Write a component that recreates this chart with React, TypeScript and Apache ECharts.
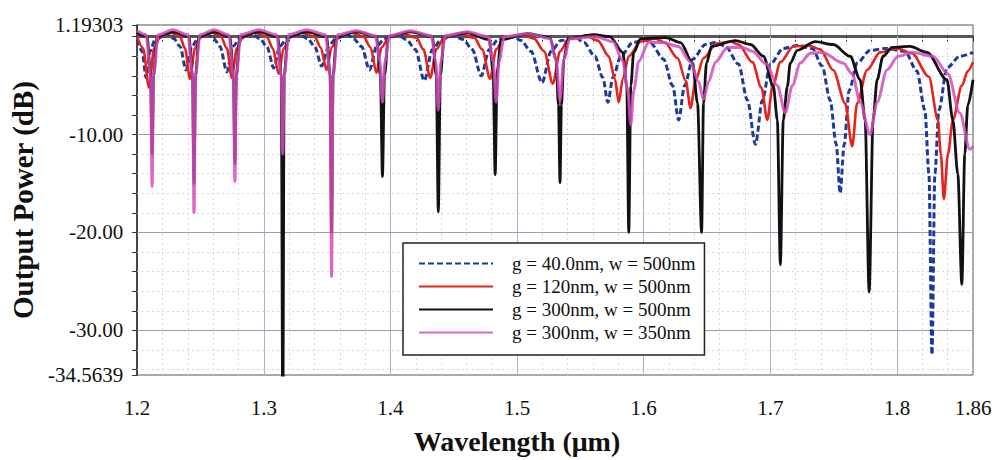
import React, { useEffect, useRef } from 'react';
import * as echarts from 'echarts';

// ---- axis ticks / labels ----
const xTickValues = [1.2, 1.3, 1.4, 1.5, 1.6, 1.7, 1.8, 1.86];
const xTickLabels = ['1.2', '1.3', '1.4', '1.5', '1.6', '1.7', '1.8', '1.86'];
const xMinorTicks = [1.2, 1.22, 1.24, 1.26, 1.28, 1.3, 1.32, 1.34, 1.36, 1.38, 1.4, 1.42, 1.44, 1.46, 1.48, 1.5, 1.52, 1.54, 1.56, 1.58, 1.6, 1.62, 1.64, 1.66, 1.68, 1.7, 1.72, 1.74, 1.76, 1.78, 1.8, 1.82, 1.84, 1.86];
const xMajorGrid = [1.3, 1.4, 1.5, 1.6, 1.7, 1.8];
const xMinorGrid = [1.22, 1.24, 1.26, 1.28, 1.32, 1.34, 1.36, 1.38, 1.42, 1.44, 1.46, 1.48, 1.52, 1.54, 1.56, 1.58, 1.62, 1.64, 1.66, 1.68, 1.72, 1.74, 1.76, 1.78, 1.82, 1.84];

const yTickValues = [1.19303, -10, -20, -30, -34.5639];
const yTickLabels = ['1.19303', '-10.00', '-20.00', '-30.00', '-34.5639'];
const yMinorTicks = [1.19303, 0, -2, -4, -6, -8, -10, -12, -14, -16, -18, -20, -22, -24, -26, -28, -30, -32, -34, -34.5639];
const yMajorGrid = [-10, -20, -30];
const yMinorGrid = [-2, -4, -6, -8, -12, -14, -16, -18, -22, -24, -26, -28, -32, -34];
const yZeroLine = 0.15;

// ---- series names ----
const seriesNames = ['g = 40.0nm, w = 500nm', 'g = 120nm, w = 500nm', 'g = 300nm, w = 500nm', 'g = 300nm, w = 350nm'];

// ---- data: [wavelength (um), output power (dB)] ----
const blueData: [number, number][] = [
  [1.2000, -0.3], [1.2039, -1.5], [1.2071, -4.2], [1.2102, -1.5], [1.2142, -0.3],
  [1.2236, 0.3],
  [1.2291, -0.2], [1.2339, -1.0], [1.2386, -3.4], [1.2433, -1.0], [1.2480, -0.2],
  [1.2551, 0.3],
  [1.2606, -0.2], [1.2654, -1.0], [1.2709, -3.6], [1.2756, -1.0], [1.2811, -0.2],
  [1.2906, 0.3],
  [1.2969, -0.2], [1.3024, -1.0], [1.3079, -3.2], [1.3126, -1.0], [1.3181, -0.2],
  [1.3276, 0.3],
  [1.3346, -0.2], [1.3402, -1.0], [1.3457, -3.0], [1.3512, -1.0], [1.3567, -0.2],
  [1.3661, 0.2],
  [1.3709, -0.2], [1.3772, -1.0], [1.3835, -3.4], [1.3890, -1.0], [1.3953, -0.2],
  [1.4055, 0.2],
  [1.4126, -0.3], [1.4197, -1.3], [1.4268, -4.5], [1.4331, -1.3], [1.4402, -0.3],
  [1.4496, 0.1],
  [1.4575, -0.3], [1.4646, -1.3], [1.4717, -4.0], [1.4780, -1.3], [1.4850, -0.3],
  [1.4969, 0.0],
  [1.5031, -0.4], [1.5110, -1.5], [1.5197, -4.7], [1.5268, -1.5], [1.5346, -0.4],
  [1.5465, -0.1],
  [1.5528, -0.6], [1.5614, -2.0], [1.5677, -4.2], [1.5717, -6.7], [1.5756, -4.2], [1.5819, -2.0], [1.5913, -0.6],
  [1.6016, -0.3],
  [1.6055, -0.7], [1.6157, -2.3], [1.6228, -5.0], [1.6276, -8.5], [1.6323, -5.0], [1.6386, -2.3], [1.6488, -0.8],
  [1.6567, -0.6],
  [1.6646, -1.0], [1.6748, -2.8], [1.6819, -6.5], [1.6882, -11], [1.6937, -6.5], [1.7000, -2.8], [1.7102, -1.2],
  [1.7213, -0.9],
  [1.7331, -1.2], [1.7409, -3.0], [1.7472, -6.5], [1.7520, -11], [1.7551, -16], [1.7583, -11], [1.7622, -5.5], [1.7685, -2.7], [1.7787, -1.4],
  [1.7906, -1.2],
  [1.8063, -1.5], [1.8157, -3.5], [1.8220, -7.5], [1.8252, -14], [1.8276, -32.5], [1.8299, -14], [1.8331, -7.5], [1.8394, -3.2], [1.8496, -2.0], [1.8600, -1.6],
];

const redData: [number, number][] = [
  [1.2000, 0.0], [1.2047, -1.2], [1.2094, -5.2], [1.2134, -1.2], [1.2181, 0.0],
  [1.2268, 0.4],
  [1.2339, 0.0], [1.2378, -1.2], [1.2417, -4.3], [1.2457, -1.2], [1.2504, 0.0],
  [1.2591, 0.4],
  [1.2661, 0.0], [1.2709, -1.2], [1.2748, -4.2], [1.2787, -1.2], [1.2835, 0.0],
  [1.2929, 0.4],
  [1.3024, 0.0], [1.3071, -1.2], [1.3118, -3.8], [1.3157, -1.2], [1.3205, 0.0],
  [1.3299, 0.4],
  [1.3402, 0.0], [1.3449, -1.1], [1.3496, -3.4], [1.3535, -1.1], [1.3591, 0.0],
  [1.3693, 0.4],
  [1.3787, 0.0], [1.3843, -1.1], [1.3890, -3.7], [1.3929, -1.1], [1.3992, 0.0],
  [1.4102, 0.3],
  [1.4205, -0.1], [1.4260, -1.3], [1.4315, -4.2], [1.4362, -1.3], [1.4425, -0.1],
  [1.4543, 0.3],
  [1.4661, -0.1], [1.4724, -1.3], [1.4787, -4.3], [1.4835, -1.3], [1.4898, -0.1],
  [1.5031, 0.2],
  [1.5134, -0.2], [1.5213, -1.5], [1.5283, -4.8], [1.5339, -1.5], [1.5409, -0.2],
  [1.5543, 0.1],
  [1.5638, -0.4], [1.5724, -2.0], [1.5772, -4.3], [1.5803, -6.7], [1.5835, -4.3], [1.5882, -2.0], [1.5976, -0.5],
  [1.6094, -0.2],
  [1.6165, -0.6], [1.6268, -2.2], [1.6331, -4.5], [1.6370, -7.3], [1.6409, -4.5], [1.6472, -2.2], [1.6575, -0.7],
  [1.6685, -0.5],
  [1.6748, -0.8], [1.6858, -2.6], [1.6929, -5.2], [1.6976, -8.5], [1.7016, -5.2], [1.7079, -2.6], [1.7181, -1.0],
  [1.7299, -0.9],
  [1.7394, -1.3], [1.7496, -3.4], [1.7591, -6.8], [1.7646, -11.2], [1.7685, -6.8], [1.7764, -3.4], [1.7866, -1.6],
  [1.8000, -1.2],
  [1.8118, -1.7], [1.8252, -4.1], [1.8323, -8.5], [1.8346, -12], [1.8370, -16.6], [1.8402, -12], [1.8441, -8.5], [1.8512, -5.0], [1.8559, -3.5], [1.8600, -2.6],
];

const blackData: [number, number][] = [
  [1.2000, 0.4],
  [1.2079, 0.0], [1.2106, -4], [1.2118, -12], [1.2130, -4], [1.2157, 0.0],
  [1.2283, 0.5],
  [1.2409, 0.0], [1.2437, -4], [1.2449, -15], [1.2461, -4], [1.2488, 0.0],
  [1.2606, 0.5],
  [1.2732, 0.0], [1.2760, -4], [1.2772, -13], [1.2783, -4], [1.2811, 0.0],
  [1.2961, 0.5],
  [1.3110, 0.0], [1.3138, -4], [1.3150, -40], [1.3161, -4], [1.3189, 0.0],
  [1.3339, 0.5],
  [1.3496, 0.0], [1.3524, -4], [1.3535, -20], [1.3547, -4], [1.3575, 0.0],
  [1.3732, 0.5],
  [1.3890, 0.0], [1.3921, -4], [1.3937, -14.3], [1.3953, -4], [1.3984, 0.0],
  [1.4157, 0.5],
  [1.4331, 0.0], [1.4362, -4], [1.4378, -17.9], [1.4394, -4], [1.4425, 0.0],
  [1.4606, 0.4],
  [1.4780, -0.3], [1.4811, -3.5], [1.4827, -14.1], [1.4843, -3.5], [1.4874, -0.3],
  [1.5087, 0.3],
  [1.5260, -0.1], [1.5307, -2.3], [1.5327, -7], [1.5339, -14.9], [1.5350, -7], [1.5370, -2.3], [1.5402, -0.2],
  [1.5606, 0.2],
  [1.5732, 0.0], [1.5835, -1.6], [1.5866, -5], [1.5882, -20], [1.5898, -5], [1.5921, -1.6], [1.5976, -0.2],
  [1.6173, -0.1],
  [1.6291, -0.6], [1.6386, -2.7], [1.6425, -6.8], [1.6457, -20], [1.6472, -6.8], [1.6496, -2.7], [1.6535, -1.0],
  [1.6724, -0.4],
  [1.6843, -0.8], [1.6945, -2.0], [1.7024, -5.1], [1.7055, -8.5], [1.7079, -23.3], [1.7102, -8.5], [1.7134, -5.1], [1.7157, -2.7], [1.7213, -1.4],
  [1.7354, -0.5],
  [1.7496, -0.8], [1.7630, -2.0], [1.7709, -4.4], [1.7748, -8.5], [1.7780, -26.1], [1.7811, -8.5], [1.7843, -4.4], [1.7890, -2.0], [1.7961, -1.1],
  [1.8102, -1.0],
  [1.8236, -1.6], [1.8394, -4.4], [1.8441, -8.5], [1.8480, -14], [1.8512, -25.3], [1.8535, -12], [1.8559, -7], [1.8600, -4.4],
];

const pinkData: [number, number][] = [
  [1.2000, 0.6],
  [1.2071, 0.2], [1.2106, -4], [1.2118, -15.3], [1.2130, -4], [1.2165, 0.2],
  [1.2283, 0.7],
  [1.2402, 0.2], [1.2437, -4], [1.2449, -18], [1.2461, -4], [1.2496, 0.2],
  [1.2606, 0.7],
  [1.2724, 0.2], [1.2760, -4], [1.2772, -14.8], [1.2783, -4], [1.2819, 0.2],
  [1.2961, 0.7],
  [1.3102, 0.2], [1.3138, -4], [1.3150, -12], [1.3161, -4], [1.3197, 0.2],
  [1.3339, 0.7],
  [1.3488, 0.2], [1.3524, -4], [1.3535, -24.5], [1.3547, -4], [1.3583, 0.2],
  [1.3732, 0.6],
  [1.3882, 0.1], [1.3917, -2.5], [1.3937, -6.7], [1.3957, -2.5], [1.3992, 0.1],
  [1.4157, 0.6],
  [1.4323, 0.1], [1.4358, -2.5], [1.4378, -7.5], [1.4398, -2.5], [1.4433, 0.1],
  [1.4606, 0.5],
  [1.4772, 0.0], [1.4811, -2.5], [1.4835, -6.7], [1.4858, -2.5], [1.4898, 0.0],
  [1.5087, 0.3],
  [1.5260, -0.2], [1.5307, -2.3], [1.5339, -6.5], [1.5370, -2.3], [1.5417, -0.2],
  [1.5622, 0.0],
  [1.5756, -0.5], [1.5835, -2.5], [1.5874, -5.5], [1.5898, -9], [1.5921, -5.5], [1.5961, -2.5], [1.6039, -0.6],
  [1.6150, -0.6],
  [1.6276, -1.0], [1.6370, -2.6], [1.6433, -4.6], [1.6472, -6.4], [1.6512, -4.6], [1.6567, -2.6], [1.6661, -1.1],
  [1.6780, -1.1],
  [1.6858, -1.5], [1.6969, -2.8], [1.7055, -5.0], [1.7118, -7.8], [1.7173, -5.0], [1.7236, -2.7], [1.7315, -1.7],
  [1.7409, -1.6],
  [1.7575, -2.7], [1.7646, -3.8], [1.7709, -6.7], [1.7787, -10], [1.7843, -6.7], [1.7921, -3.4], [1.8008, -2.0],
  [1.8118, -1.6],
  [1.8283, -2.0], [1.8402, -3.8], [1.8496, -7.8], [1.8575, -11.5], [1.8600, -11.2],
];

const FONT = "'Liberation Serif', 'Times New Roman', serif";

const findLabel = (vals: number[], labels: string[], v: number) => {
  const i = vals.findIndex((t) => Math.abs(t - v) < 1e-6);
  return i >= 0 ? labels[i] : '';
};

export default function App() {
  const ref = useRef<HTMLDivElement>(null);
  useEffect(() => {
    if (!ref.current) return;
    const chart = echarts.init(ref.current, undefined, { renderer: 'svg' });

    const gridLines: any[] = [];
    xMinorGrid.forEach((v) => gridLines.push({ xAxis: v, lineStyle: { color: '#d6d6e4', width: 1, type: [2, 3] } }));
    yMinorGrid.forEach((v) => gridLines.push({ yAxis: v, lineStyle: { color: '#d6d6e4', width: 1, type: [2, 3] } }));
    xMajorGrid.forEach((v) => gridLines.push({ xAxis: v, lineStyle: { color: '#b0b0cc', width: 1, type: 'solid' } }));
    yMajorGrid.forEach((v) => gridLines.push({ yAxis: v, lineStyle: { color: '#9c9cb8', width: 1, type: 'solid' } }));
    gridLines.push({ yAxis: yZeroLine, lineStyle: { color: '#555', width: 1.2, type: 'solid' } });

    const lineSeries = (name: string, data: [number, number][], color: string, width: number, type: any, z: number, opacity = 1) => ({
      name,
      type: 'line',
      data,
      symbol: 'none',
      showSymbol: false,
      smooth: 0.3,
      smoothMonotone: 'x',
      z,
      lineStyle: { color, width, type, opacity },
      itemStyle: { color },
      emphasis: { disabled: true },
    });

    chart.setOption({
      animation: false,
      backgroundColor: '#ffffff',
      grid: { left: 135, right: 25, top: 25, bottom: 83, show: true, borderColor: '#555', borderWidth: 1, backgroundColor: 'transparent' },
      xAxis: {
        type: 'value',
        min: 1.2,
        max: 1.86,
        axisLine: { show: true, lineStyle: { color: '#222', width: 1.5 } },
        axisTick: { show: true, customValues: xMinorTicks, length: 5, lineStyle: { color: '#333', width: 1 } },
        axisLabel: {
          customValues: xTickValues,
          formatter: (v: number) => findLabel(xTickValues, xTickLabels, v),
          fontSize: 21,
          fontFamily: FONT,
          color: '#111',
          margin: 22,
        },
        splitLine: { show: false },
        name: 'Wavelength (μm)',
        nameLocation: 'middle',
        nameGap: 52,
        nameTextStyle: { fontSize: 28, fontWeight: 'bold', fontFamily: FONT, color: '#111', padding: [0, 76, 0, 0] },
      },
      yAxis: {
        type: 'value',
        min: -34.5639,
        max: 1.19303,
        axisLine: { show: true, lineStyle: { color: '#222', width: 1.5 } },
        axisTick: { show: true, customValues: yMinorTicks, length: 5, lineStyle: { color: '#333', width: 1 } },
        axisLabel: {
          customValues: yTickValues,
          formatter: (v: number) => findLabel(yTickValues, yTickLabels, v),
          fontSize: 21,
          fontFamily: FONT,
          color: '#111',
          margin: 14,
        },
        splitLine: { show: false },
        name: 'Output Power (dB)',
        nameLocation: 'middle',
        nameGap: 98,
        nameTextStyle: { fontSize: 29, fontWeight: 'bold', fontFamily: FONT, color: '#111' },
      },
      legend: {
        data: seriesNames,
        orient: 'vertical',
        left: 403,
        top: 243,
        z: 20,
        itemWidth: 74,
        itemHeight: 14,
        itemGap: 4,
        padding: [11, 9, 13, 15],
        borderColor: '#222',
        borderWidth: 1.5,
        borderRadius: 0,
        backgroundColor: '#ffffff',
        selectedMode: false,
        itemStyle: { opacity: 0 },
        textStyle: { fontSize: 19, fontFamily: FONT, color: '#111', padding: [0, 0, 0, 14] },
      },
      series: [
        {
          type: 'line',
          data: [],
          silent: true,
          z: 1,
          markLine: { silent: true, z: 1, symbol: ['none', 'none'], label: { show: false }, animation: false, data: gridLines },
        },
        lineSeries(seriesNames[0], blueData, '#1c3a9c', 3, [6, 3], 2),
        lineSeries(seriesNames[1], redData, '#e5231b', 2.6, 'solid', 3),
        lineSeries(seriesNames[2], blackData, '#111111', 2.8, 'solid', 4),
        lineSeries(seriesNames[3], pinkData, '#d24cbc', 3, 'solid', 5, 0.85),
      ],
    });
    return () => chart.dispose();
  }, []);
  return <div ref={ref} style={{ position: 'fixed', left: 0, top: 0, width: 998, height: 460, background: '#fff' }} />;
}
